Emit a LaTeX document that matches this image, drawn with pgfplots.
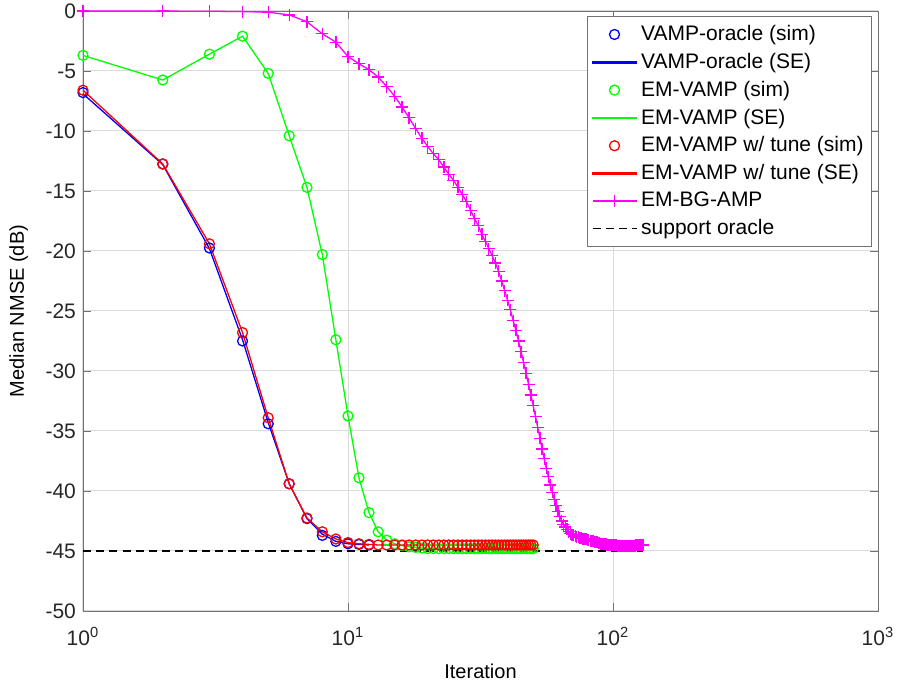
\documentclass[border=0pt]{standalone}
\usepackage{pgfplots}
\pgfplotsset{compat=1.18}
\usepackage{fontspec}
\setmainfont{Liberation Sans}

\definecolor{axgray}{gray}{0.45}
\definecolor{gridgray}{gray}{0.86}
\definecolor{vblue}{rgb}{0,0,1}
\definecolor{vgreen}{rgb}{0,1,0}
\definecolor{vred}{rgb}{1,0,0}
\definecolor{vmag}{rgb}{1,0,1}

\pgfplotsset{
  seline/.style={no marks, legend image code/.code={\fill (0pt,-0.3pt) rectangle (22pt,0.3pt);}},
}

\begin{document}
\begin{tikzpicture}
\begin{axis}[
  scale only axis,
  width=397.5pt, height=300pt,
  xmode=log, log basis x=10,
  xmin=1, xmax=1000, ymin=-50, ymax=0,
  xtick={1,10,100,1000},
  xticklabels={10\textsuperscript{0},10\textsuperscript{1},10\textsuperscript{2},10\textsuperscript{3}},
  ytick={-50,-45,...,0},
  /pgf/number format/assume math mode=true,
  tick label style={font=\fontsize{10.5}{12}\selectfont, text=black!85},
  xticklabel style={yshift=-4.5pt},
  label style={font=\fontsize{11.5}{13}\selectfont, text=black!85},
  xlabel={Iteration},
  ylabel={Median NMSE (dB)},
  every axis x label/.style={at={(axis description cs:0.5,-0.1)}, anchor=center},
  every axis y label/.style={at={(axis description cs:-0.081,0.5)}, rotate=90, anchor=center},
  axis line style={axgray},
  tick style={axgray},
  major tick length=4pt, minor tick length=2.2pt,
  tick align=inside,
  grid=both,
  major grid style={gridgray, line width=0.5pt},
  minor y tick num=0,
  minor grid style={gray!45, dotted, line width=0.4pt},
  legend style={at={(axis description cs:0.9925,0.9917)}, anchor=north east,
    draw=axgray, fill=white, font=\fontsize{10.5}{12}\selectfont,
    row sep=0.8pt, inner xsep=2pt, inner ysep=2.5pt},
  legend cell align=left,
  legend image code/.code={\draw[mark repeat=2, mark phase=2] plot coordinates {(0pt,0pt)(11pt,0pt)(22pt,0pt)};},
  every axis plot/.append style={line width=0.65pt},
]
% VAMP-oracle (sim)
\addplot[only marks, vblue, mark=o, mark size=2.5pt] coordinates {
(1,-6.8) (2,-12.75) (3,-19.75) (4,-27.5) (5,-34.4) (6,-39.4) (7,-42.3) (8,-43.7)
(9,-44.2) (10,-44.4) (11,-44.45) (12,-44.5)};
\addlegendentry{VAMP-oracle (sim)}
% VAMP-oracle (SE)
\addplot[vblue, seline] coordinates {
(1,-6.9) (2,-12.8) (3,-19.8) (4,-27.4) (5,-34.3) (6,-39.4) (7,-42.3) (8,-43.6)
(9,-44.2) (10,-44.4) (11,-44.45) (12,-44.5)};
\addlegendentry{VAMP-oracle (SE)}
% EM-VAMP (sim)
\addplot[only marks, vgreen, mark=o, mark size=2.5pt] coordinates {
(1,-3.7) (2,-5.75) (3,-3.6) (4,-2.1) (5,-5.2) (6,-10.4) (7,-14.7) (8,-20.3)
(9,-27.4) (10,-33.75) (11,-38.9) (12,-41.8) (13,-43.4) (14,-44.1) (15,-44.4)
(16,-44.55) (17,-44.65) (18,-44.7) (19,-44.75) (20,-44.8) (21,-44.8) (22,-44.8)
(23,-44.8) (24,-44.8) (25,-44.8) (26,-44.8) (27,-44.8) (28,-44.8) (29,-44.8)
(30,-44.8) (31,-44.8) (32,-44.8) (33,-44.8) (34,-44.8) (35,-44.8) (36,-44.8)
(37,-44.8) (38,-44.8) (39,-44.8) (40,-44.8) (41,-44.8) (42,-44.8) (43,-44.8)
(44,-44.8) (45,-44.8) (46,-44.8) (47,-44.8) (48,-44.8) (49,-44.8) (50,-44.8)};
\addlegendentry{EM-VAMP (sim)}
% EM-VAMP (SE)
\addplot[vgreen, seline] coordinates {
(1,-3.7) (2,-5.75) (3,-3.6) (4,-2.1) (5,-5.2) (6,-10.4) (7,-14.7) (8,-20.3)
(9,-27.4) (10,-33.75) (11,-38.9) (12,-41.8) (13,-43.4) (14,-44.1) (15,-44.4)
(16,-44.55) (17,-44.65) (18,-44.7) (19,-44.75) (20,-44.8) (30,-44.8) (40,-44.8) (50,-44.8)};
\addlegendentry{EM-VAMP (SE)}
% EM-VAMP w/ tune (sim)
\addplot[only marks, vred, mark=o, mark size=2.5pt] coordinates {
(1,-6.6) (2,-12.75) (3,-19.4) (4,-26.8) (5,-33.9) (6,-39.4) (7,-42.25) (8,-43.4)
(9,-44.0) (10,-44.3) (11,-44.4) (12,-44.45) (13,-44.5) (14,-44.5) (15,-44.5)
(16,-44.5) (17,-44.5) (18,-44.5) (19,-44.5) (20,-44.5) (21,-44.5) (22,-44.5)
(23,-44.5) (24,-44.5) (25,-44.5) (26,-44.5) (27,-44.5) (28,-44.5) (29,-44.5)
(30,-44.5) (31,-44.5) (32,-44.5) (33,-44.5) (34,-44.5) (35,-44.5) (36,-44.5)
(37,-44.5) (38,-44.5) (39,-44.5) (40,-44.5) (41,-44.5) (42,-44.5) (43,-44.5)
(44,-44.5) (45,-44.5) (46,-44.5) (47,-44.5) (48,-44.5) (49,-44.5) (50,-44.5)};
\addlegendentry{EM-VAMP w/ tune (sim)}
% EM-VAMP w/ tune (SE)
\addplot[vred, seline] coordinates {
(1,-6.6) (2,-12.75) (3,-19.4) (4,-26.8) (5,-33.9) (6,-39.4) (7,-42.25) (8,-43.4)
(9,-44.0) (10,-44.3) (11,-44.4) (12,-44.45) (13,-44.5) (20,-44.5) (30,-44.5) (40,-44.5) (50,-44.5)};
\addlegendentry{EM-VAMP w/ tune (SE)}
% EM-BG-AMP
\addplot[vmag, mark=+, mark size=3pt] coordinates {
(1,0) (2,-0.01) (3,-0.02) (4,-0.05) (5,-0.1) (6,-0.33) (7,-0.9) (8,-1.9)
(9,-2.6) (10,-3.8) (11,-4.4) (12,-4.9) (13,-5.5) (14,-6.3) (15,-7.1) (16,-8.0)
(17,-8.9) (18,-9.8) (19,-10.6) (20,-11.3) (21,-11.9) (22,-12.4) (23,-13.0) (24,-13.6)
(25,-14.1) (26,-14.7) (27,-15.3) (28,-15.9) (29,-16.6) (30,-17.3) (31,-17.9) (32,-18.6)
(33,-19.2) (34,-19.8) (35,-20.4) (36,-21.0) (37,-21.7) (38,-22.5) (39,-23.3) (40,-24.1)
(41,-24.9) (42,-25.8) (43,-26.6) (44,-27.5) (45,-28.4) (46,-29.3) (47,-30.2) (48,-31.1)
(49,-32.0) (50,-32.9) (51,-33.8) (52,-34.7) (53,-35.6) (54,-36.5) (55,-37.3) (56,-38.1)
(57,-38.8) (58,-39.5) (59,-40.1) (60,-40.7) (61,-41.2) (62,-41.7) (63,-42.1) (64,-42.5)
(65,-42.8) (66,-43.0) (67,-43.2) (68,-43.4) (69,-43.55) (70,-43.65) (71,-43.7) (72,-43.75)
(73,-43.8) (74,-43.85) (75,-43.9) (76,-43.93) (77,-43.96) (78,-44.0) (79,-44.03) (80,-44.06)
(81,-44.1) (82,-44.13) (83,-44.16) (84,-44.2) (85,-44.23) (86,-44.26) (87,-44.29) (88,-44.32)
(89,-44.35) (90,-44.38) (91,-44.4) (92,-44.42) (93,-44.44) (94,-44.45) (95,-44.46) (96,-44.47)
(97,-44.48) (98,-44.49) (99,-44.5) (100,-44.5) (101,-44.52) (102,-44.53) (103,-44.54) (104,-44.55)
(105,-44.55) (106,-44.55) (107,-44.56) (108,-44.56) (109,-44.56) (110,-44.57) (111,-44.57) (112,-44.57)
(113,-44.57) (114,-44.57) (115,-44.57) (116,-44.56) (117,-44.56) (118,-44.56) (119,-44.55) (120,-44.55)
(121,-44.55) (122,-44.54) (123,-44.54) (124,-44.53) (125,-44.52) (126,-44.51) (127,-44.5) (128,-44.5)
(129,-44.5) (130,-44.5)};
\addlegendentry{EM-BG-AMP}
% support oracle
\addplot[black, no marks, dash pattern=on 4pt off 2.6pt] coordinates {(1,-45) (130,-45)};
\addlegendentry{support oracle}
\end{axis}
\pgfresetboundingbox
\path[use as bounding box] ([xshift=-41.5pt,yshift=-35.5pt]current axis.south west) rectangle ([xshift=10.5pt,yshift=5.5pt]current axis.north east);
\end{tikzpicture}
\end{document}
